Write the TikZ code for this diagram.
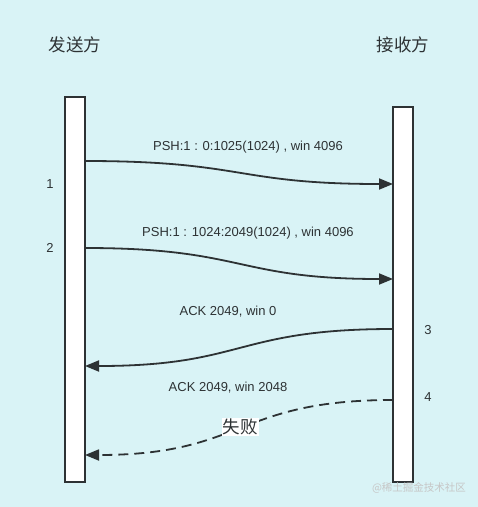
\documentclass[tikz,border=0pt]{standalone}
\usepackage{fontspec}
\setmainfont{Liberation Sans}
\newfontfamily\cjk{Noto Sans CJK SC}
\usetikzlibrary{arrows.meta}
\definecolor{fundo}{RGB}{217,243,246}
\definecolor{traco}{RGB}{45,50,52}

\begin{document}
\begin{tikzpicture}[x=1pt,y=-1pt,
    barra/.style={draw=traco, line width=2pt, fill=white},
    msg/.style={draw=traco, line width=1.8pt, -{Triangle[length=14pt,width=11pt]}},
    rotulo/.style={text=traco, font=\fontsize{13}{15}\selectfont, inner sep=0pt},
    numero/.style={text=traco, font=\fontsize{13}{15}\selectfont, inner sep=0pt},
    titulo/.style={text=traco, font=\cjk\fontsize{17.5}{20}\selectfont, inner sep=0pt}]

    % Fundo
    \fill[fundo] (0,0) rectangle (478,507);
    \useasboundingbox (0,0) rectangle (478,507);

    % Participantes
    \node[titulo] (emissor) at (75,45) {发送方};
    \node[titulo] (receptor) at (403,45) {接收方};
    \draw[barra] (65,97) rectangle (85,482);
    \draw[barra] (393,107) rectangle (413,482);

    % Pontos das mensagens
    \coordinate (A1) at (85,161);  \coordinate (B1) at (393,184);
    \coordinate (A2) at (85,248);  \coordinate (B2) at (393,279);
    \coordinate (B3) at (393,329); \coordinate (A3) at (85,366);
    \coordinate (B4) at (393,400); \coordinate (A4) at (85,455);

    % Mensagens
    \draw[msg] (A1) .. controls (245,161) and (235,184) .. (B1);
    \draw[msg] (A2) .. controls (245,248) and (235,279) .. (B2);
    \draw[msg] (B3) .. controls (235,329) and (245,366) .. (A3);
    \draw[msg, dash pattern=on 10pt off 6pt] (B4) .. controls (235,400) and (245,455) .. (A4);

    % Rotulos
    \node[rotulo] (psh1) at (248,147) {PSH:1 : 0:1025(1024) , win 4096};
    \node[rotulo] (psh2) at (248,233) {PSH:1 : 1024:2049(1024) , win 4096};
    \node[rotulo] (ack1) at (228,312) {ACK 2049, win 0};
    \node[rotulo] (ack2) at (228,388) {ACK 2049, win 2048};
    \node[titulo, fill=white, inner sep=1pt] (falha) at (240,427) {失败};

    % Numeros
    \node[numero] (n1) at (50,184) {1};
    \node[numero] (n2) at (50,248) {2};
    \node[numero] (n3) at (428,330) {3};
    \node[numero] (n4) at (428,397) {4};

    % Marca
    \node[text=gray!45, font=\cjk\fontsize{10.5}{12}\selectfont, inner sep=0pt] (marca) at (419,488) {@稀土掘金技术社区};

\end{tikzpicture}
\end{document}
